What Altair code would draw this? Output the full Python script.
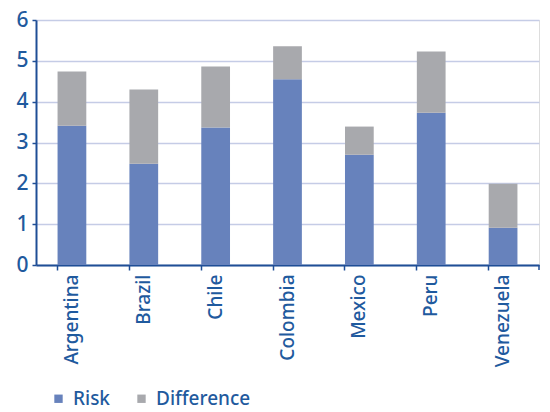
import altair as alt
import pandas as pd

countries = ["Argentina", "Brazil", "Chile", "Colombia", "Mexico", "Peru", "Venezuela"]
risk = [3.41, 2.48, 3.37, 4.55, 2.70, 3.73, 0.91]
difference = [1.33, 1.82, 1.49, 0.81, 0.69, 1.50, 1.08]
series = ["Risk", "Difference"]
colors = ["#6782BC", "#A8A9AD"]
y_ticks = [0, 1, 2, 3, 4, 5, 6]

rows = []
for c, r, d in zip(countries, risk, difference):
    rows.append({"country": c, "series": "Risk", "value": r, "ord": 0})
    rows.append({"country": c, "series": "Difference", "value": d, "ord": 1})
df = pd.DataFrame(rows)

TEXT = "#1F5A9E"
AXIS = "#1F4E96"
FONT = "Noto Sans"

bars = alt.Chart(df).mark_bar().encode(
    x=alt.X("country:N", sort=countries, title=None,
            scale=alt.Scale(paddingInner=0.6, paddingOuter=0.3),
            axis=alt.Axis(labelAngle=-90, labelAlign="right", labelBaseline="middle",
                          labelFontSize=19, labelColor=TEXT, labelFont=FONT, labelFontWeight=500,
                          labelPadding=4, labelLimit=200, tickColor=AXIS, tickSize=5, tickWidth=1.5,
                          domainColor=AXIS, domainWidth=2, bandPosition=0, grid=False)),
    y=alt.Y("value:Q", stack="zero", title=None,
            scale=alt.Scale(domain=[0, 6], nice=False),
            axis=alt.Axis(values=y_ticks, labelFontSize=21, labelColor=TEXT, labelFont=FONT,
                          labelFontWeight=500,
                          labelPadding=4, tickColor=AXIS, tickSize=4, tickWidth=1.5,
                          domainColor=AXIS, domainWidth=2,
                          gridColor="#C5CCE6", gridWidth=1.5)),
    color=alt.Color("series:N", scale=alt.Scale(domain=series, range=colors),
                    legend=alt.Legend(title=None, orient="none", legendX=13, legendY=124 + 245,
                                      direction="horizontal", symbolType="square",
                                      symbolSize=70, symbolStrokeWidth=0,
                                      labelFontSize=19, labelColor=TEXT, labelFont=FONT,
                                      labelFontWeight=500,
                                      columnPadding=22, labelOffset=5)),
    order=alt.Order("ord:Q"),
)

end_tick = alt.Chart(pd.DataFrame({"a": [0]})).mark_rule(color=AXIS, strokeWidth=1.5).encode(
    x=alt.value(503), y=alt.value(245), y2=alt.value(250)
)

chart = alt.layer(bars, end_tick).properties(
    width=503, height=245,
    autosize=alt.AutoSizeParams(type="none"),
    padding={"left": 36, "top": 20, "right": 11, "bottom": 147},
).configure_view(stroke=None).configure(background="white")

chart.save("out.html", embed_options={"renderer": "svg", "actions": False})
